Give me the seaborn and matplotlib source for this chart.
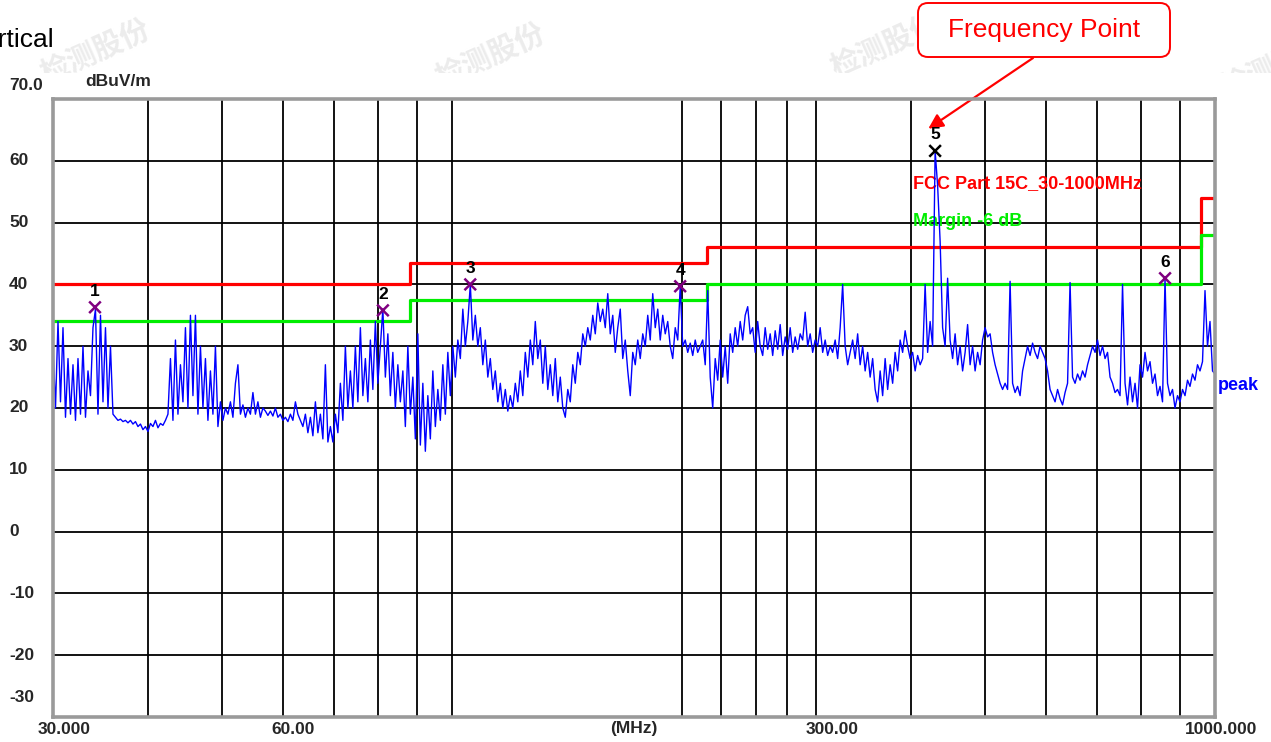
import numpy as np
import pandas as pd
import matplotlib
matplotlib.use('Agg')
import matplotlib.pyplot as plt
import matplotlib.transforms as mtransforms
from matplotlib.patches import FancyBboxPatch
from matplotlib.ticker import FixedLocator, NullLocator
import seaborn as sns

# 扫频 30-1000 MHz，peak 读数 (dBuV/m)，按对数等间隔取点
start_mhz, stop_mhz = 30.0, 1000.0
peak_dbuv = [
    30, 20, 34, 21, 33, 18.5, 28, 19, 27, 18, 28, 19, 30, 18.5, 26, 22, 33, 36, 19, 35,
    21, 33, 20, 30, 19, 18.5, 18, 18.2, 17.8, 18, 17.6, 18, 17.4, 17.8, 17, 17.4, 16.5, 17, 16.2, 17.5,
    17, 18, 16.8, 17.5, 17.2, 18, 19, 28, 18, 31, 19, 27, 21, 33, 20, 35, 22, 35, 19, 30,
    20, 28, 18, 26, 19, 30, 17, 21, 18, 20, 19, 21, 18.5, 24, 27, 19, 20.5, 18.5, 20, 19,
    22.5, 19, 21, 18.5, 20, 19.5, 18.8, 19.5, 18.7, 20, 18.5, 19, 18, 18.5, 17.8, 19, 18, 21, 19, 18,
    17, 19, 16, 18.5, 15.5, 21, 16, 19, 15, 27, 14.5, 17, 14.5, 19, 16, 24, 18, 30, 20, 26,
    20, 30, 21, 33, 22, 28, 21, 31, 23, 34, 24, 30, 36, 25, 32, 22, 29, 20, 27, 21,
    26, 17, 30, 19, 25, 15, 32, 14, 24, 13, 22, 15, 26, 17, 23, 18, 27, 19, 29, 22,
    30, 25, 31, 28, 36, 30, 34, 40, 31, 35, 30, 33, 27, 31, 25, 28, 23, 26, 21, 24,
    20, 23, 19.5, 22, 20, 24, 21, 26, 22, 29, 25, 31, 27, 34, 28, 31, 24, 30, 23, 27,
    22, 28, 21, 25, 20, 18.5, 23, 21, 27, 24, 29, 27, 32, 30, 33, 31, 35, 32, 37, 34,
    36, 33, 38.5, 32, 35, 29, 33, 36, 28, 31, 26, 22, 29, 27, 31, 28, 32, 30, 35, 31,
    38.5, 33, 36, 31, 35, 32, 34, 30, 28, 33, 31, 39.7, 30, 31, 29, 30.5, 28.5, 31, 29, 30,
    31, 27, 39, 25, 20, 28, 24.5, 31, 25, 30, 24, 32, 29, 33, 30, 34, 31, 35, 36.4, 32,
    33, 29, 34, 30, 28.5, 33, 29.5, 32, 28.5, 32.5, 29.5, 33.5, 28.5, 31.5, 29.5, 33, 29, 31.5, 29.5, 32,
    31, 35.5, 30, 32, 29, 31, 30, 33, 29, 31, 28.5, 30, 29, 31, 28, 33, 40, 30, 27, 29,
    31, 28, 32, 27, 30, 26, 29, 25, 28, 23, 21, 26, 22, 28, 23, 27, 24, 29, 26, 31,
    29, 32.5, 30, 28, 29, 26, 28.5, 27, 28, 40, 29, 34, 30, 61.6, 56, 47, 33, 30, 41, 31,
    28, 32, 27, 30, 26, 29, 33.5, 27, 30, 26, 29, 27, 31, 33, 31.5, 32, 29, 27, 25.5, 24,
    23, 24, 23, 40.5, 24, 22.5, 23.5, 22, 26, 28, 30, 28.5, 30.5, 29, 28, 30, 29, 28, 26, 23,
    22, 21, 23, 21.5, 20.5, 22.5, 24, 40.3, 25, 24, 25.5, 24.5, 26, 25, 27, 28.5, 30, 29, 31, 28.5,
    30, 28, 29, 25, 24, 22.5, 23, 22, 40, 24, 20.5, 25, 21, 24, 20, 27, 25, 29, 26, 27.5,
    24, 25.5, 22, 23.5, 21, 41, 24, 22, 23, 20, 22, 21, 23, 22, 24.5, 23.5, 25.5, 24.5, 27, 26,
    27.5, 39, 30, 34, 26, 25.5,
]
freq_mhz = np.geomspace(start_mhz, stop_mhz, len(peak_dbuv))

# FCC Part 15C 限值及 -6dB 余量
limit_edges_mhz = [30, 88, 216, 960, 1000]
limit_dbuv = [40, 43.5, 46, 54]
margin_dbuv = [34, 37.5, 40, 48]

# 标记点
mark_no = [1, 2, 3, 4, 5, 6]
mark_freq = [34.05, 81.19, 105.67, 199.10, 429.72, 860.10]
mark_level = [36.3, 35.8, 40.0, 39.7, 61.6, 41.0]

grid_freqs = [40, 50, 60, 70, 80, 90, 100, 200, 225, 250, 275, 300, 400, 500, 600, 700, 800, 900]
y_grid = [-20, -10, 0, 10, 20, 30, 40, 50, 60]
y_tick_vals = [70, 60, 50, 40, 30, 20, 10, 0, -10, -20, -30]
y_tick_text = ['70.0', '60', '50', '40', '30', '20', '10', '0', '-10', '-20', '-30']
x_tick_freqs = [30, 60, 300, 1000]
x_tick_text = ['30.000', '60.00', '300.00', '1000.000']

W, H = 1271, 742
sns.set_theme(style='white')
plt.rcParams['font.family'] = ['Liberation Sans', 'DejaVu Sans']

fig = plt.figure(figsize=(W / 100, H / 100), dpi=100)
ax = fig.add_axes([53 / W, 1 - 717 / H, 1162 / W, 618 / H])
ax.set_zorder(2)

df = pd.DataFrame({'freq': freq_mhz, 'level': peak_dbuv})
sns.lineplot(data=df, x='freq', y='level', ax=ax, color='#0000ff', lw=1.0,
             estimator=None, sort=False, zorder=4)

ax.plot(limit_edges_mhz, limit_dbuv + [limit_dbuv[-1]], drawstyle='steps-post',
        color='#ff0000', lw=2.3, zorder=3)
ax.plot(limit_edges_mhz, margin_dbuv + [margin_dbuv[-1]], drawstyle='steps-post',
        color='#00ee00', lw=2.3, zorder=3)

mk = pd.DataFrame({'no': mark_no, 'freq': mark_freq, 'level': mark_level})
mk['kind'] = np.where(mk['no'] == 5, 'top', 'other')
sns.scatterplot(data=mk, x='freq', y='level', hue='kind',
                palette={'other': '#800080', 'top': '#000000'}, marker='x',
                s=70, linewidth=1.8, legend=False, ax=ax, zorder=5)
for n, f, v in zip(mark_no, mark_freq, mark_level):
    ax.annotate(str(n), (f, v), xytext=(0, 11.5), textcoords='offset points',
                ha='center', va='center', fontsize=12.5, fontweight='bold', color='black', zorder=6)

ax.set_xscale('log')
ax.set_xlim(start_mhz, stop_mhz)
ax.set_ylim(-30, 70)
ax.xaxis.set_major_locator(NullLocator())
ax.xaxis.set_minor_locator(FixedLocator(grid_freqs))
ax.yaxis.set_major_locator(FixedLocator(y_grid))
ax.yaxis.set_minor_locator(NullLocator())
ax.grid(True, which='minor', axis='x', color='black', lw=1.3)
ax.grid(True, which='major', axis='y', color='black', lw=1.3)
ax.tick_params(which='both', length=0, labelbottom=False, labelleft=False)
ax.set_xlabel('')
ax.set_ylabel('')
for sp in ax.spines.values():
    sp.set_color('#9a9a9a')
    sp.set_linewidth(2.6)
    sp.set_zorder(7)

# 坐标刻度文字
ylab_trans = mtransforms.blended_transform_factory(ax.transAxes, ax.transData)
for v, t in zip(y_tick_vals, y_tick_text):
    yy = v
    if v == 70:
        yy = 72.2
    elif v == -30:
        yy = -26.8
    ax.text(-44 / 1162, yy, t, transform=ylab_trans, ha='left', va='center',
            fontsize=12.5, fontweight='bold', clip_on=False)
xlab_trans = mtransforms.blended_transform_factory(ax.transData, ax.transAxes)
x_shift = [11, 10, 16, 6]
for f, t, dx in zip(x_tick_freqs, x_tick_text, x_shift):
    tr = mtransforms.offset_copy(xlab_trans, fig=fig, x=dx, y=0, units='dots')
    ax.text(f, -12 / 618, t, transform=tr, ha='center', va='center',
            fontsize=12.5, fontweight='bold', clip_on=False)
ax.text(0.5, -12 / 618, '(MHz)', transform=ax.transAxes, ha='center', va='center',
        fontsize=12.5, fontweight='bold', clip_on=False)
ax.text(32 / 1162, 1 + 17 / 618, 'dBuV/m', transform=ax.transAxes, ha='left', va='center',
        fontsize=12.5, fontweight='bold', clip_on=False)

ax.text(860 / 1162, (717 - 184) / 618, 'FCC Part 15C_30-1000MHz', transform=ax.transAxes,
        ha='left', va='center', fontsize=13, fontweight='bold', color='#ff0000')
ax.text(860 / 1162, (717 - 221) / 618, 'Margin -6 dB', transform=ax.transAxes,
        ha='left', va='center', fontsize=13, fontweight='bold', color='#00ee00')
ax.text(1165 / 1162, (717 - 386) / 618, 'peak', transform=ax.transAxes,
        ha='left', va='center', fontsize=13, fontweight='bold', color='#0000ff', clip_on=False)

# 左上角被截断的标题
fig.text(55 / W, 1 - 40 / H, 'Vertical', ha='right', va='center', fontsize=19, color='black')

# 水印
wm_clip = mtransforms.TransformedBbox(mtransforms.Bbox([[0, 1 - 73 / H], [1, 1]]), fig.transFigure)
for wx, wy in [(95, 52), (490, 56), (885, 46), (1275, 66)]:
    t = fig.text(wx / W, 1 - wy / H, '检测股份', rotation=24, color='#ececec', fontsize=21,
                 family=['Noto Sans CJK SC'], fontweight='bold', ha='center', va='center', zorder=0.5)
    t.set_clip_box(wm_clip)
    t.set_clip_on(True)

# Frequency Point 标注
box = FancyBboxPatch((918, H - 57), 252, 54, boxstyle='round,pad=0,rounding_size=10',
                     transform=mtransforms.IdentityTransform(), fc='white', ec='#ff0000', lw=1.4,
                     zorder=3)
fig.patches.append(box)
fig.text(1044 / W, 1 - 30 / H, 'Frequency Point', ha='center', va='center',
         fontsize=19, color='#ff0000', zorder=4)
ax.annotate('', xy=(421, 65.2), xycoords='data', xytext=(1033 / W, 1 - 58 / H),
            textcoords='figure fraction', annotation_clip=False,
            arrowprops=dict(arrowstyle='-|>', color='#ff0000', lw=1.6, mutation_scale=22,
                            shrinkA=0, shrinkB=0))

fig.savefig('out.png', dpi=100)
